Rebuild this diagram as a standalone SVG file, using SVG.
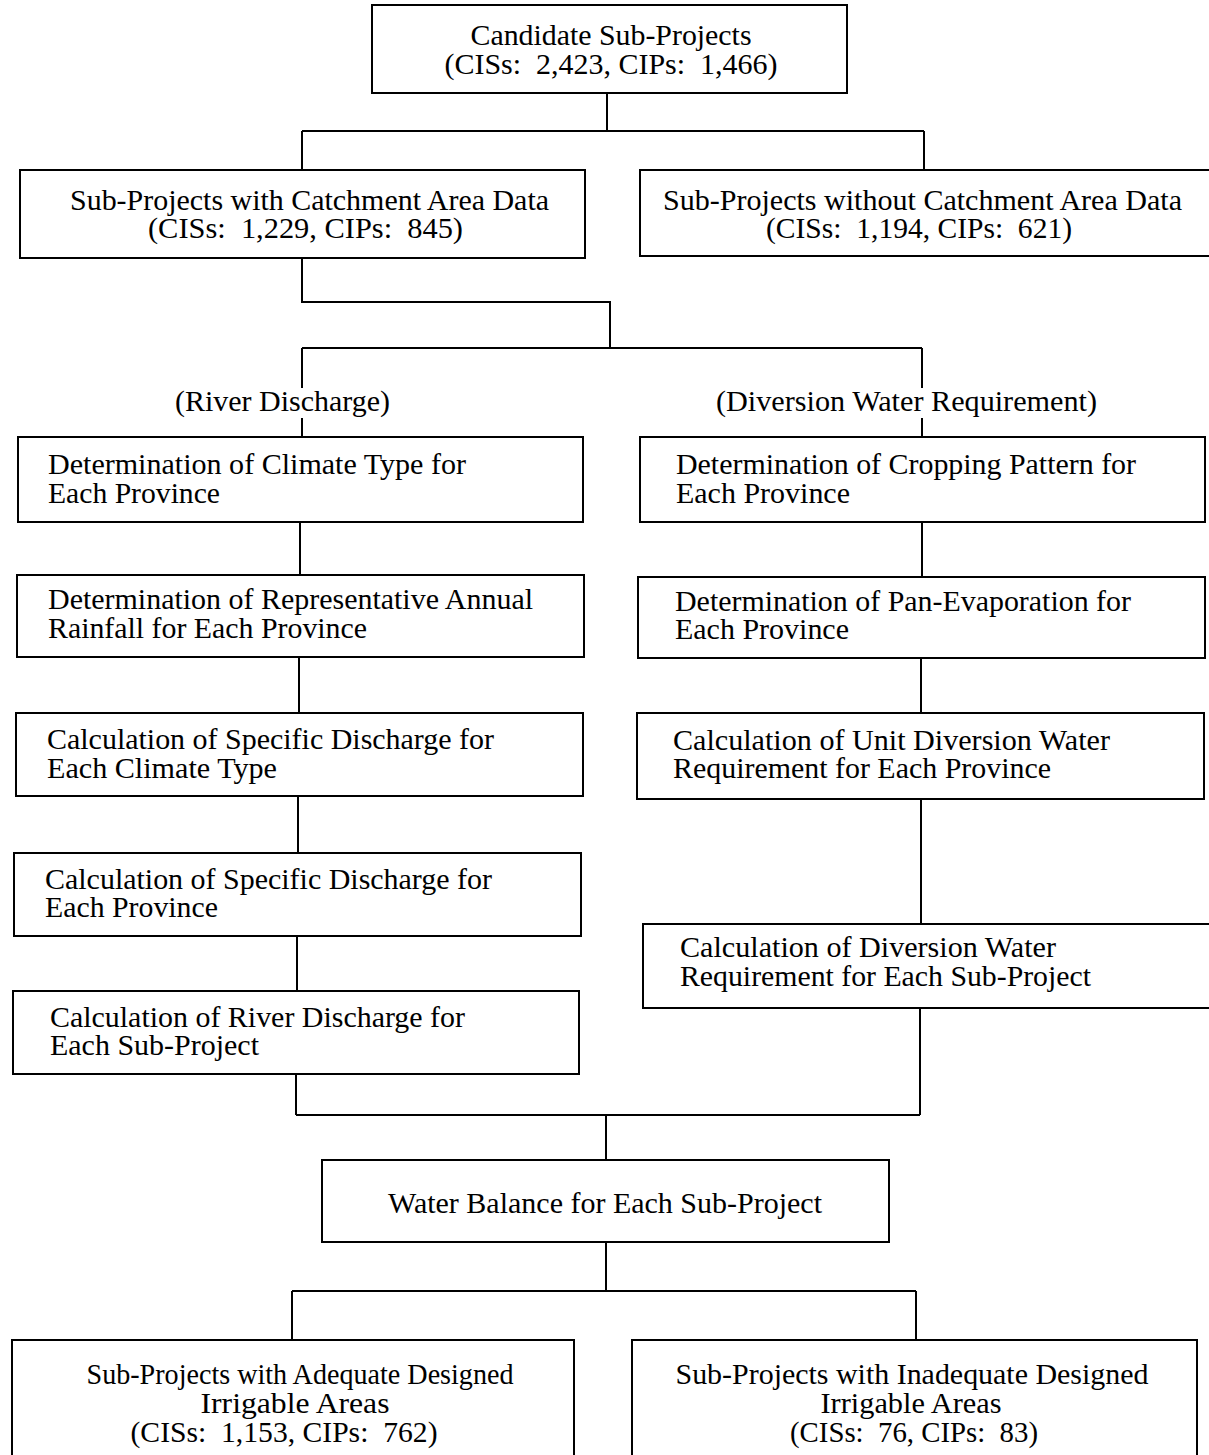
<svg xmlns="http://www.w3.org/2000/svg" width="1209" height="1455" viewBox="0 0 1209 1455">
<style>
.box{fill:#fff;stroke:#000;stroke-width:2}
.ln{fill:none;stroke:#000;stroke-width:2}
text{font-family:"Liberation Serif","Times New Roman",serif;font-size:30px;fill:#000;white-space:pre}
.c{text-anchor:middle}
</style>
<rect x="0" y="0" width="1209" height="1455" fill="#fff"/>
<g id="connectors">
<path class="ln" d="M607 93V131M302 131H924M302 131V170M924 131V170"/>
<path class="ln" d="M302 258V302H610V348M302 348H922M302 348V388M302 418V437M922 348V388M922 418V437"/>
<path class="ln" d="M300 522V575M299 657V713M298 796V853M297 936V991M296 1074V1115"/>
<path class="ln" d="M922 522V577M921 658V713M921 799V924M920 1008V1115"/>
<path class="ln" d="M296 1115H920M606 1115V1160M606 1242V1291M292 1291H916M292 1291V1340M916 1291V1340"/>
</g>
<g id="candidate">
<rect class="box" x="372" y="5" width="475" height="88"/>
<text class="c" x="611" y="45" textLength="281" lengthAdjust="spacingAndGlyphs">Candidate Sub-Projects</text>
<text class="c" x="611" y="74" textLength="333" lengthAdjust="spacingAndGlyphs">(CISs:  2,423, CIPs:  1,466)</text>
</g>
<g id="with-catchment">
<rect class="box" x="20" y="170" width="565" height="88"/>
<text x="70" y="210" textLength="479" lengthAdjust="spacingAndGlyphs">Sub-Projects with Catchment Area Data</text>
<text x="148" y="238" textLength="315" lengthAdjust="spacingAndGlyphs">(CISs:  1,229, CIPs:  845)</text>
</g>
<g id="without-catchment">
<rect class="box" x="640" y="170" width="580" height="86"/>
<text x="663" y="210" textLength="519" lengthAdjust="spacingAndGlyphs">Sub-Projects without Catchment Area Data</text>
<text x="766" y="238" textLength="306" lengthAdjust="spacingAndGlyphs">(CISs:  1,194, CIPs:  621)</text>
</g>
<g id="label-river">
<text x="175" y="411" textLength="215" lengthAdjust="spacingAndGlyphs">(River Discharge)</text>
</g>
<g id="label-diversion">
<text x="716" y="411" textLength="381" lengthAdjust="spacingAndGlyphs">(Diversion Water Requirement)</text>
</g>
<g id="climate">
<rect class="box" x="18" y="437" width="565" height="85"/>
<text x="48" y="474" textLength="418" lengthAdjust="spacingAndGlyphs">Determination of Climate Type for</text>
<text x="48" y="503" textLength="172" lengthAdjust="spacingAndGlyphs">Each Province</text>
</g>
<g id="rainfall">
<rect class="box" x="17" y="575" width="567" height="82"/>
<text x="48" y="609" textLength="485" lengthAdjust="spacingAndGlyphs">Determination of Representative Annual</text>
<text x="48" y="638" textLength="319" lengthAdjust="spacingAndGlyphs">Rainfall for Each Province</text>
</g>
<g id="spec-climate">
<rect class="box" x="16" y="713" width="567" height="83"/>
<text x="47" y="749" textLength="447" lengthAdjust="spacingAndGlyphs">Calculation of Specific Discharge for</text>
<text x="47" y="778" textLength="230" lengthAdjust="spacingAndGlyphs">Each Climate Type</text>
</g>
<g id="spec-province">
<rect class="box" x="14" y="853" width="567" height="83"/>
<text x="45" y="889" textLength="447" lengthAdjust="spacingAndGlyphs">Calculation of Specific Discharge for</text>
<text x="45" y="917" textLength="173" lengthAdjust="spacingAndGlyphs">Each Province</text>
</g>
<g id="river-discharge">
<rect class="box" x="13" y="991" width="566" height="83"/>
<text x="50" y="1027" textLength="415" lengthAdjust="spacingAndGlyphs">Calculation of River Discharge for</text>
<text x="50" y="1055" textLength="209" lengthAdjust="spacingAndGlyphs">Each Sub-Project</text>
</g>
<g id="cropping">
<rect class="box" x="640" y="437" width="565" height="85"/>
<text x="676" y="474" textLength="460" lengthAdjust="spacingAndGlyphs">Determination of Cropping Pattern for</text>
<text x="676" y="503" textLength="174" lengthAdjust="spacingAndGlyphs">Each Province</text>
</g>
<g id="pan-evaporation">
<rect class="box" x="638" y="577" width="567" height="81"/>
<text x="675" y="611" textLength="456" lengthAdjust="spacingAndGlyphs">Determination of Pan-Evaporation for</text>
<text x="675" y="639" textLength="174" lengthAdjust="spacingAndGlyphs">Each Province</text>
</g>
<g id="unit-diversion">
<rect class="box" x="637" y="713" width="567" height="86"/>
<text x="673" y="750" textLength="437" lengthAdjust="spacingAndGlyphs">Calculation of Unit Diversion Water</text>
<text x="673" y="778" textLength="378" lengthAdjust="spacingAndGlyphs">Requirement for Each Province</text>
</g>
<g id="diversion-subproject">
<rect class="box" x="643" y="924" width="570" height="84"/>
<text x="680" y="957" textLength="376" lengthAdjust="spacingAndGlyphs">Calculation of Diversion Water</text>
<text x="680" y="986" textLength="411" lengthAdjust="spacingAndGlyphs">Requirement for Each Sub-Project</text>
</g>
<g id="water-balance">
<rect class="box" x="322" y="1160" width="567" height="82"/>
<text x="388" y="1213" textLength="434" lengthAdjust="spacingAndGlyphs">Water Balance for Each Sub-Project</text>
</g>
<g id="adequate">
<rect class="box" x="12" y="1340" width="562" height="130"/>
<text class="c" x="300" y="1384" textLength="427" lengthAdjust="spacingAndGlyphs">Sub-Projects with Adequate Designed</text>
<text class="c" x="295" y="1413" textLength="189" lengthAdjust="spacingAndGlyphs">Irrigable Areas</text>
<text class="c" x="284" y="1442" textLength="307" lengthAdjust="spacingAndGlyphs">(CISs:  1,153, CIPs:  762)</text>
</g>
<g id="inadequate">
<rect class="box" x="632" y="1340" width="565" height="130"/>
<text class="c" x="912" y="1384" textLength="473" lengthAdjust="spacingAndGlyphs">Sub-Projects with Inadequate Designed</text>
<text class="c" x="911" y="1413" textLength="181" lengthAdjust="spacingAndGlyphs">Irrigable Areas</text>
<text class="c" x="914" y="1442" textLength="248" lengthAdjust="spacingAndGlyphs">(CISs:  76, CIPs:  83)</text>
</g>
</svg>
